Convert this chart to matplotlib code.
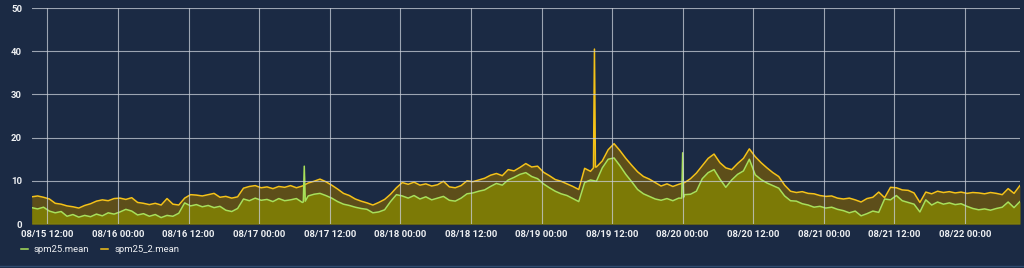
import numpy as np
import pandas as pd
import matplotlib
matplotlib.use("Agg")
import matplotlib.pyplot as plt
import matplotlib.dates as mdates

plt.rcParams["font.family"] = ["Roboto", "DejaVu Sans"]

# hourly readings, starting 08/15 09:20
start = "2021-08-15 09:20"

spm25 = [
    3.8, 3.5, 3.9, 3.0, 2.6, 2.9, 1.8, 2.2, 1.6, 2.0,
    1.7, 2.3, 1.9, 2.6, 2.3, 2.8, 3.4, 3.0, 2.1, 2.4,
    1.8, 2.2, 1.5, 2.0, 1.8, 2.5, 4.9, 4.2, 4.5, 4.0,
    4.3, 3.8, 4.1, 3.2, 2.9, 3.6, 5.8, 5.4, 6.0, 5.5,
    5.7, 5.2, 5.9, 5.4, 5.6, 5.9, 5.0, 6.5, 6.9, 7.1,
    6.6, 6.0, 5.2, 4.6, 4.3, 3.9, 3.6, 3.4, 2.6, 2.8,
    3.3, 5.2, 6.8, 6.5, 6.0, 6.6, 5.8, 6.3, 5.6, 6.0,
    6.4, 5.5, 5.3, 6.0, 7.0, 7.2, 7.6, 7.9, 8.7, 9.4,
    9.0, 10.2, 10.8, 11.5, 11.9, 11.0, 10.5, 9.3, 8.4, 7.6,
    7.0, 6.6, 5.9, 5.2, 9.6, 10.2, 9.9, 13.0, 15.0, 15.3,
    13.5, 11.5, 9.8, 8.0, 7.0, 6.4, 5.8, 5.5, 5.9, 5.4,
    6.0, 6.8, 6.9, 7.6, 10.5, 11.9, 12.6, 10.4, 8.5, 10.2,
    11.5, 12.3, 15.0, 11.4, 10.3, 9.5, 8.9, 8.3, 6.5, 5.4,
    5.3, 4.7, 4.4, 3.9, 4.1, 3.7, 3.9, 3.4, 3.1, 2.6,
    3.0, 1.9, 2.4, 3.0, 2.7, 5.8, 5.6, 6.6, 5.4, 5.0,
    4.6, 2.8, 5.6, 4.4, 5.1, 4.6, 4.9, 4.5, 4.7, 4.1,
    3.6, 3.3, 3.5, 3.2, 3.6, 3.9, 5.1, 3.8, 5.2,
]

spm25_2 = [
    6.3, 6.5, 6.2, 5.8, 4.8, 4.6, 4.2, 4.0, 3.7, 4.3,
    4.7, 5.3, 5.6, 5.4, 5.9, 6.0, 5.7, 6.1, 5.0, 4.8,
    4.5, 4.8, 4.4, 5.9, 4.6, 4.4, 6.0, 6.8, 6.7, 6.5,
    6.8, 7.1, 6.2, 6.4, 6.0, 6.3, 8.3, 8.7, 8.9, 8.4,
    8.6, 8.2, 8.7, 8.5, 8.9, 8.4, 8.8, 9.5, 9.9, 10.4,
    9.8, 9.0, 8.1, 7.1, 6.6, 5.8, 5.3, 4.9, 4.4, 5.0,
    5.7, 6.9, 8.4, 9.6, 9.2, 9.7, 9.0, 9.3, 8.8, 9.1,
    9.9, 8.6, 8.4, 8.9, 10.0, 9.8, 10.2, 10.6, 11.3, 11.7,
    11.2, 12.6, 12.3, 13.1, 14.0, 13.2, 13.4, 12.0, 11.2, 10.3,
    9.9, 9.3, 8.7, 8.0, 12.9, 12.2, 13.2, 14.6, 17.2, 18.6,
    17.0, 15.2, 13.6, 12.1, 11.0, 10.4, 9.6, 8.8, 9.3, 8.7,
    9.2, 9.6, 10.5, 11.8, 13.5, 15.2, 16.2, 14.2, 13.0, 12.6,
    14.0, 15.2, 17.4, 15.6, 14.2, 13.0, 11.9, 11.0, 9.0, 7.6,
    7.3, 7.5, 7.1, 7.0, 6.6, 6.4, 6.5, 6.0, 5.8, 6.0,
    5.6, 5.1, 5.9, 6.2, 7.4, 6.1, 8.5, 8.4, 7.9, 7.8,
    7.2, 5.0, 7.4, 7.0, 7.6, 7.3, 7.5, 7.2, 7.4, 7.1,
    7.3, 7.2, 7.0, 7.3, 7.1, 6.8, 8.2, 7.1, 8.9,
]

# short spikes read at 10-minute resolution
spm25_spike_times = ["2021-08-17 07:30", "2021-08-17 07:40", "2021-08-17 07:50",
                     "2021-08-19 23:50", "2021-08-20 00:00", "2021-08-20 00:10"]
spm25_spike_vals = [5.1, 13.4, 5.3, 6.0, 16.5, 6.2]
spm25_2_spike_times = ["2021-08-19 08:50", "2021-08-19 09:00", "2021-08-19 09:10"]
spm25_2_spike_vals = [13.0, 40.5, 13.2]

hours = pd.date_range(start, periods=len(spm25), freq="h")

s1 = pd.concat([pd.Series(spm25, index=hours),
                pd.Series(spm25_spike_vals, index=pd.to_datetime(spm25_spike_times))]).sort_index()
s2 = pd.concat([pd.Series(spm25_2, index=hours),
                pd.Series(spm25_2_spike_vals, index=pd.to_datetime(spm25_2_spike_times))]).sort_index()

bg = "#1b2a44"
green = "#a8e05a"
yellow = "#f5c218"

fig = plt.figure(figsize=(10.24, 2.68), dpi=100, facecolor=bg)
ax = fig.add_axes([0.031, 0.164, 0.965, 0.806], facecolor=bg)

ax.fill_between(s2.index, 0, s2.values, color="#5d4e1a", lw=0)
ax.fill_between(s1.index, 0, s1.values, color="#7c7a06", lw=0)
ax.plot(s2.index, s2.values, color=yellow, lw=1.1, label="spm25_2.mean")
ax.plot(s1.index, s1.values, color=green, lw=1.1, label="spm25.mean")

ax.set_ylim(0, 50)
ax.set_yticks([0, 10, 20, 30, 40, 50])
ax.set_xlim(pd.Timestamp(start), pd.Timestamp("2021-08-22 09:20"))
ax.xaxis.set_major_locator(mdates.HourLocator(byhour=[0, 12]))
ax.xaxis.set_major_formatter(mdates.DateFormatter("%m/%d %H:%M"))

ax.grid(True, color="#c9ced8", lw=0.8, alpha=0.75)
ax.set_axisbelow(False)
for sp in ax.spines.values():
    sp.set_visible(False)
ax.tick_params(length=0, colors="#eef0f3", labelsize=6.8, pad=4)
ax.tick_params(axis="y", pad=7)
for lbl in ax.get_xticklabels() + ax.get_yticklabels():
    lbl.set_fontweight("bold")

handles, labels = ax.get_legend_handles_labels()
leg = fig.legend(handles[::-1], labels[::-1], loc="lower left", bbox_to_anchor=(0.012, 0.02),
                 ncol=2, frameon=False, fontsize=6.8, handlelength=0.8, columnspacing=1.2,
                 handletextpad=0.6)
for t in leg.get_texts():
    t.set_color("#eef0f3")

fig.add_artist(plt.Line2D([0, 1], [0.008, 0.008], color="#2f4a6e", lw=1.0, transform=fig.transFigure))

fig.savefig("out.png", dpi=100, facecolor=bg)
